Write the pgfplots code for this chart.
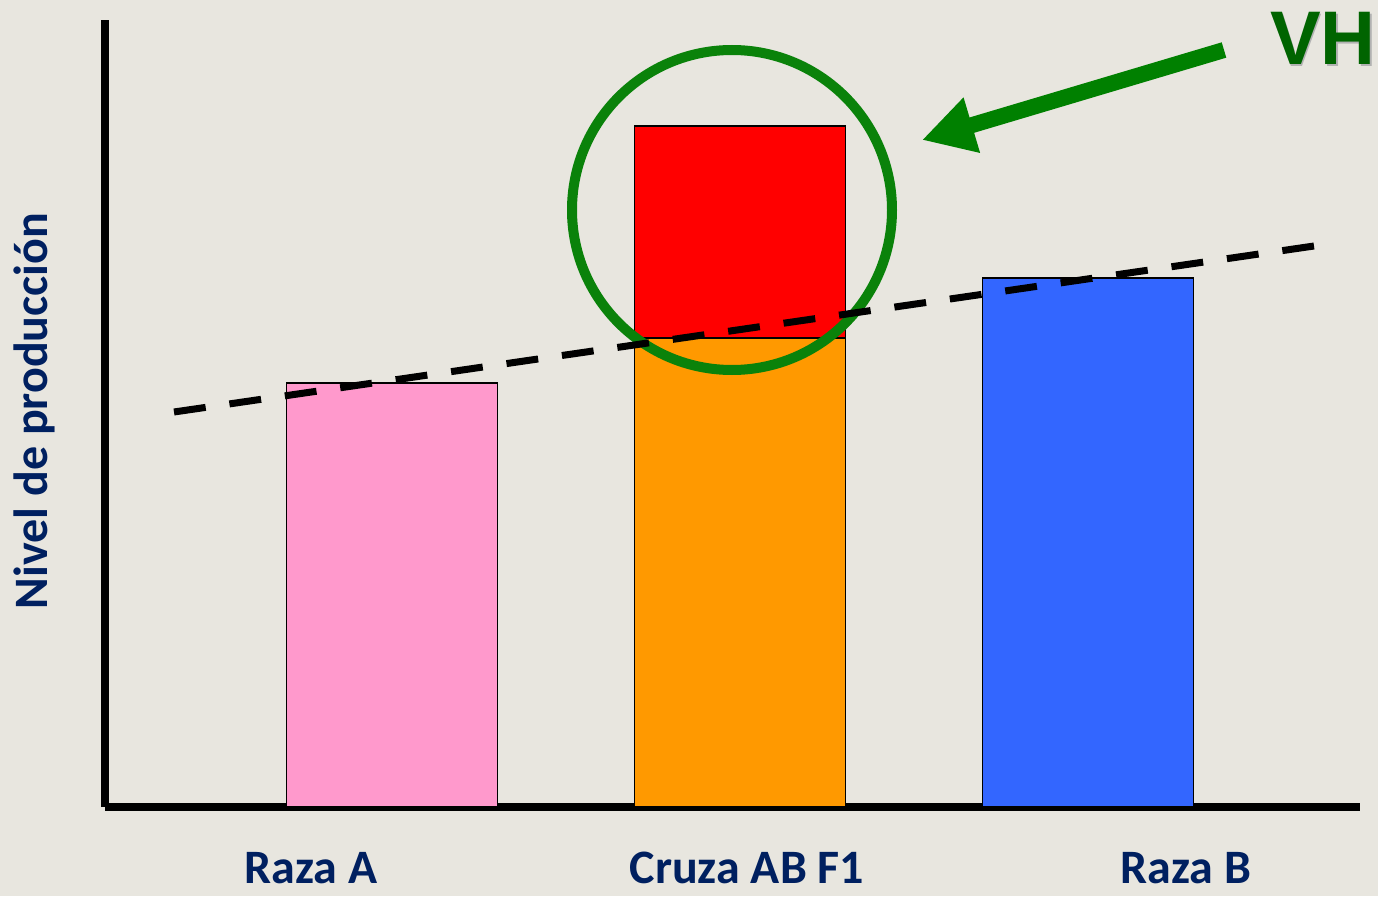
\documentclass[border=0pt]{standalone}
\usepackage{fontspec}
\setmainfont{Carlito}
\newfontfamily\vhfont{Liberation Sans}
\usepackage{pgfplots}
\pgfplotsset{compat=1.18}
\usetikzlibrary{arrows.meta}
\definecolor{bg}{HTML}{E8E6DF}
\definecolor{navy}{HTML}{002060}
\definecolor{rosa}{HTML}{FF99CC}
\definecolor{naranja}{HTML}{FF9900}
\definecolor{rojo}{HTML}{FF0000}
\definecolor{azul}{HTML}{3366FF}
\definecolor{verde}{HTML}{008000}
\definecolor{verdec}{HTML}{0A820A}
\definecolor{verdeo}{HTML}{006400}
\begin{document}
\begin{tikzpicture}
\fill[bg] (0,0) rectangle (689pt,448pt);
\begin{axis}[
  at={(52.5pt,44.5pt)}, anchor=south west,
  scale only axis, width=627.5pt, height=393.5pt,
  xmin=0, xmax=1255, ymin=0, ymax=787,
  axis lines=left,
  axis line style={-, line width=3.75pt, black},
  every outer x axis line/.append style={-},
  every outer y axis line/.append style={-},
  ytick=\empty,
  xtick={206,642,1081},
  xticklabels={Raza A, Cruza AB F1, Raza B},
  xticklabel style={anchor=base, yshift=-38pt, font=\fontsize{24}{28}\selectfont\bfseries, text=navy},
  major tick length=0pt,
  xtick style={draw=none},
  clip=false,
  ybar, bar width=211,
]
\addplot[fill=rosa, draw=black, line width=0.75pt, bar shift=0pt] coordinates {(287,424)};
\addplot[fill=rojo, draw=black, line width=0.75pt, bar shift=0pt] coordinates {(635,681)};
\addplot[fill=naranja, draw=black, line width=0.75pt, bar shift=0pt] coordinates {(635,469)};
\addplot[fill=azul, draw=black, line width=0.75pt, bar shift=0pt] coordinates {(983,529)};
\draw[verdec, line width=5pt] (axis cs:627,597) circle [radius=160];
\addplot[sharp plot, black, line width=3.5pt, dash pattern=on 16pt off 12pt] coordinates {(69,395) (1209,561)};
\draw[verde, line width=8pt, -{Triangle[length=26pt,width=27pt]}] (axis cs:1119,757) -- (axis cs:817,667);
\node[anchor=base, text=black!30, font=\fontsize{38}{40}\selectfont\vhfont\bfseries] at ([xshift=0.8pt,yshift=-0.8pt]axis cs:1218,742) {VH};
\node[anchor=base, text=verdeo, font=\fontsize{38}{40}\selectfont\vhfont\bfseries] at (axis cs:1218,742) {VH};
\node[rotate=90, anchor=base, text=navy, font=\fontsize{24}{28}\selectfont\bfseries] at (axis cs:-57,396) {Nivel de producción};
\end{axis}
\pgfresetboundingbox
\useasboundingbox (0,0) rectangle (689pt,448pt);
\end{tikzpicture}
\end{document}
